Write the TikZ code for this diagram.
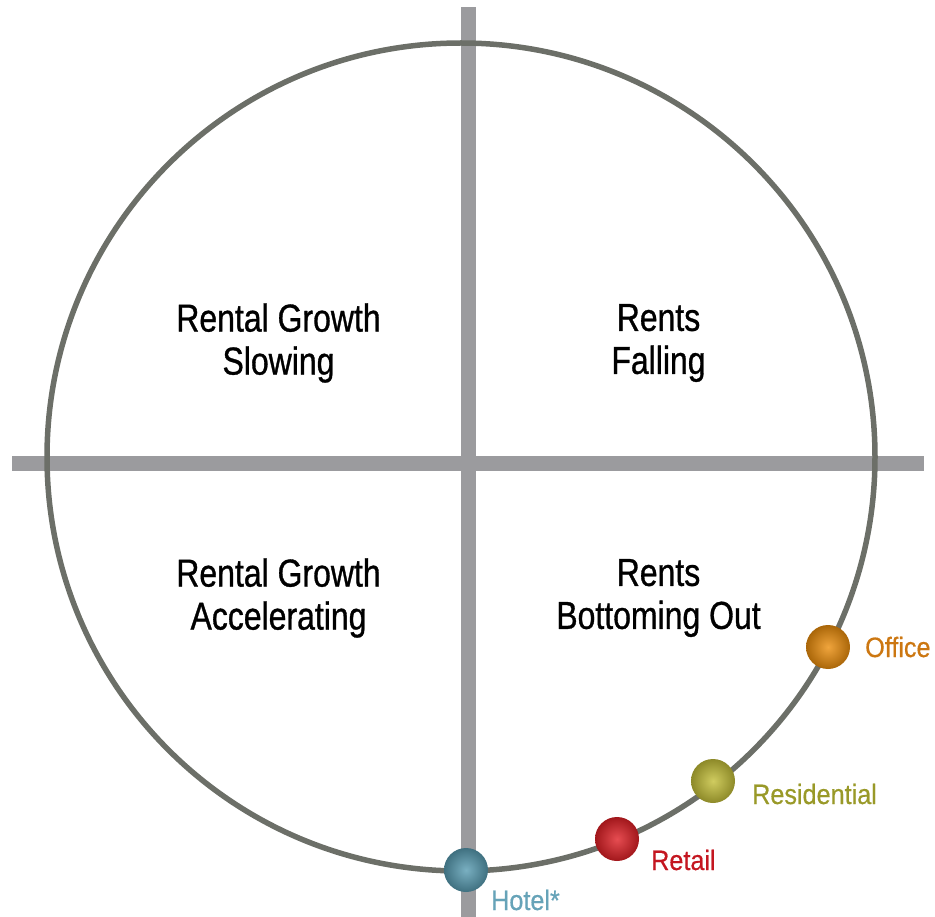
\documentclass[tikz,border=0pt]{standalone}
\usepackage{fontspec}
\setmainfont{Liberation Sans}
\newfontfamily\narrowfont[FakeStretch=0.82,FakeBold=0.8]{Liberation Sans}
\newfontfamily\tagfont[FakeStretch=0.9,FakeBold=0.5]{Liberation Sans}
\usepackage{tikz}
\usetikzlibrary{positioning}

\definecolor{bargray}{RGB}{155,155,158}
\definecolor{ringgray}{RGB}{108,111,104}
\definecolor{officeball}{RGB}{236,142,12}
\definecolor{officetxt}{RGB}{204,119,17}
\definecolor{resiball}{RGB}{196,191,56}
\definecolor{resitxt}{RGB}{153,153,40}
\definecolor{retailball}{RGB}{224,32,38}
\definecolor{retailtxt}{RGB}{196,22,32}
\definecolor{hotelball}{RGB}{88,156,178}
\definecolor{hoteltxt}{RGB}{102,163,184}

\begin{document}
\begin{tikzpicture}[x=1pt,y=-1pt,
    bar/.style={fill=bargray},
    ring/.style={draw=ringgray,line width=5.5pt},
    phase/.style={inner sep=0pt,align=center,font=\narrowfont\fontsize{39}{43}\selectfont},
    sector/.style={circle,inner sep=0pt,minimum size=44pt,shading=radial,
        inner color=#1!80!white,outer color=#1!72!black},
    tag/.style={inner sep=0pt,anchor=base west,font=\tagfont\fontsize{28}{30}\selectfont}]
        \useasboundingbox (0,0) rectangle (935,917);
        % axes
        \fill[bar] (461,7) rectangle (476,917);
        \fill[bar] (12,456) rectangle (924,471);
        % cycle
        \coordinate (ctr) at (461,457);
        \draw[ring] (ctr) circle (414);
        % quadrants
        \node[phase] (slow) at (278.5,343) {Rental Growth\\Slowing};
        \node[phase] (fall) at (658.5,343) {Rents\\Falling};
        \node[phase] (accel) at (278.5,598) {Rental Growth\\Accelerating};
        \node[phase] (bottom) at (658.5,598) {Rents\\Bottoming Out};
        % sectors on the clock
        \node[sector=officeball] (office) at (828,647) {};
        \node[sector=resiball] (resi) at (713,781) {};
        \node[sector=retailball] (retail) at (617,839) {};
        \node[sector=hotelball] (hotel) at (466,870) {};
        \node[tag,text=officetxt] (officelbl) at (865,657) {Office};
        \node[tag,text=resitxt] (resilbl) at (752,804) {Residential};
        \node[tag,text=retailtxt] (retaillbl) at (651,870) {Retail};
        \node[tag,text=hoteltxt] (hotellbl) at (491,910) {Hotel*};
\end{tikzpicture}
\end{document}
